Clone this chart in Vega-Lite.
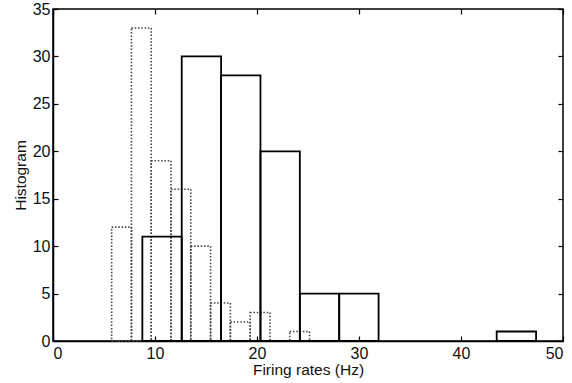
{
  "$schema": "https://vega.github.io/schema/vega-lite/v6.json",
  "width": 510,
  "height": 332,
  "autosize": {"type": "none"},
  "padding": {"left": 53, "top": 9, "right": 9, "bottom": 42},
  "background": "white",
  "config": {
    "view": {"stroke": "black", "strokeWidth": 1.5},
    "axis": {"labelFont": "Liberation Sans", "titleFont": "Liberation Sans", "labelFontSize": 16, "titleFontSize": 15.5, "titleFontWeight": "normal", "labelColor": "#111", "titleColor": "#111", "grid": false, "domainColor": "black", "domainWidth": 1.5, "tickColor": "black", "tickSize": -5, "tickWidth": 1.2}
  },
  "data": {"values": [
    {"series": "solid", "x0": 8.76, "x1": 12.62, "count": 11},
    {"series": "solid", "x0": 12.62, "x1": 16.48, "count": 30},
    {"series": "solid", "x0": 16.48, "x1": 20.34, "count": 28},
    {"series": "solid", "x0": 20.34, "x1": 24.2, "count": 20},
    {"series": "solid", "x0": 24.2, "x1": 28.06, "count": 5},
    {"series": "solid", "x0": 28.06, "x1": 31.92, "count": 5},
    {"series": "solid", "x0": 43.5, "x1": 47.36, "count": 1},
    {"series": "dotted", "x0": 5.75, "x1": 7.69, "count": 12},
    {"series": "dotted", "x0": 7.69, "x1": 9.63, "count": 33},
    {"series": "dotted", "x0": 9.63, "x1": 11.57, "count": 19},
    {"series": "dotted", "x0": 11.57, "x1": 13.51, "count": 16},
    {"series": "dotted", "x0": 13.51, "x1": 15.45, "count": 10},
    {"series": "dotted", "x0": 15.45, "x1": 17.39, "count": 4},
    {"series": "dotted", "x0": 17.39, "x1": 19.33, "count": 2},
    {"series": "dotted", "x0": 19.33, "x1": 21.27, "count": 3},
    {"series": "dotted", "x0": 23.21, "x1": 25.15, "count": 1}
  ]},
  "layer": [
    {
      "transform": [{"filter": "datum.series === 'dotted'"}],
      "mark": {"type": "rect", "fill": null, "fillOpacity": 0, "stroke": "#444", "strokeWidth": 1.6, "strokeDash": [1.5, 1.8]},
      "encoding": {
        "x": {"field": "x0", "type": "quantitative", "scale": {"domain": [0, 50], "nice": false}, "axis": {"orient": "top", "labels": false, "title": null, "values": [0, 10, 20, 30, 40, 50], "domain": false}},
        "x2": {"field": "x1"},
        "y": {"field": "count", "type": "quantitative", "scale": {"domain": [0, 35], "nice": false}, "axis": {"orient": "right", "labels": false, "title": null, "values": [0, 5, 10, 15, 20, 25, 30, 35], "domain": false}},
        "y2": {"datum": 0}
      }
    },
    {
      "transform": [{"filter": "datum.series === 'solid'"}],
      "mark": {"type": "rect", "fill": null, "fillOpacity": 0, "stroke": "black", "strokeWidth": 1.8},
      "encoding": {
        "x": {"field": "x0", "type": "quantitative", "scale": {"domain": [0, 50], "nice": false}, "axis": {"orient": "bottom", "title": "Firing rates (Hz)", "values": [0, 10, 20, 30, 40, 50], "labelPadding": 9, "titlePadding": 1}},
        "x2": {"field": "x1"},
        "y": {"field": "count", "type": "quantitative", "scale": {"domain": [0, 35], "nice": false}, "axis": {"orient": "left", "title": "Histogram", "values": [0, 5, 10, 15, 20, 25, 30, 35], "labelPadding": 8, "titlePadding": 4}},
        "y2": {"datum": 0}
      }
    }
  ]
}
